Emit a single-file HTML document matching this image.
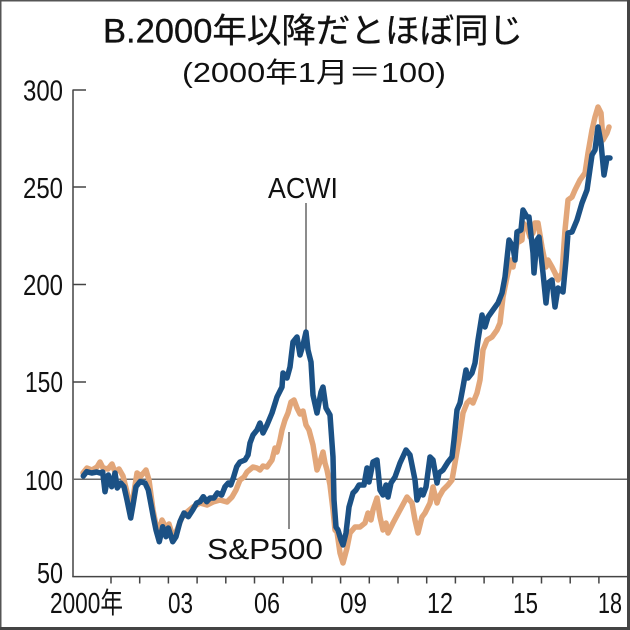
<!DOCTYPE html>
<html>
<head>
<meta charset="utf-8">
<style>
html,body{margin:0;padding:0;background:#fff;}
body{width:630px;height:630px;overflow:hidden;}
svg{display:block;}
text{font-family:"Liberation Sans","Noto Sans CJK JP",sans-serif;fill:#111;}
</style>
</head>
<body>
<svg width="630" height="630" viewBox="0 0 630 630" xmlns="http://www.w3.org/2000/svg">
<rect x="0" y="0" width="630" height="630" fill="#fff"/>
<!-- frame -->
<line x1="0.75" y1="0" x2="0.75" y2="630" stroke="#555" stroke-width="1.5"/>
<line x1="0" y1="0.75" x2="630" y2="0.75" stroke="#555" stroke-width="1.5"/>
<rect x="627" y="0" width="3" height="630" fill="#444"/>
<rect x="0" y="627" width="630" height="3" fill="#444"/>

<!-- titles -->
<text x="103" y="42.5" font-size="34" textLength="420" lengthAdjust="spacingAndGlyphs" stroke="#111" stroke-width="0.35">B.2000年以降だとほぼ同じ</text>
<text x="182" y="82" font-size="28" textLength="264" lengthAdjust="spacingAndGlyphs">(2000年1月＝100)</text>

<!-- y axis -->
<line x1="73" y1="89.5" x2="73" y2="577" stroke="#444" stroke-width="1.5"/>
<g stroke="#444" stroke-width="1.5">
<line x1="73" y1="90" x2="86" y2="90"/>
<line x1="73" y1="187" x2="86" y2="187"/>
<line x1="73" y1="284.5" x2="86" y2="284.5"/>
<line x1="73" y1="382" x2="86" y2="382"/>
</g>
<!-- 100 reference line -->
<line x1="73" y1="479.3" x2="627" y2="479.3" stroke="#6a6a6a" stroke-width="1.5"/>
<!-- x axis -->
<line x1="72.3" y1="576.6" x2="627" y2="576.6" stroke="#444" stroke-width="1.5"/>
<g stroke="#444" stroke-width="1.5">
<line x1="111" y1="576.6" x2="111" y2="583.5"/>
<line x1="139.7" y1="576.6" x2="139.7" y2="583.5"/>
<line x1="168.4" y1="576.6" x2="168.4" y2="583.5"/>
<line x1="197.1" y1="576.6" x2="197.1" y2="583.5"/>
<line x1="225.8" y1="576.6" x2="225.8" y2="583.5"/>
<line x1="254.5" y1="576.6" x2="254.5" y2="583.5"/>
<line x1="283.2" y1="576.6" x2="283.2" y2="583.5"/>
<line x1="311.9" y1="576.6" x2="311.9" y2="583.5"/>
<line x1="340.6" y1="576.6" x2="340.6" y2="583.5"/>
<line x1="369.3" y1="576.6" x2="369.3" y2="583.5"/>
<line x1="398" y1="576.6" x2="398" y2="583.5"/>
<line x1="426.7" y1="576.6" x2="426.7" y2="583.5"/>
<line x1="455.4" y1="576.6" x2="455.4" y2="583.5"/>
<line x1="484.1" y1="576.6" x2="484.1" y2="583.5"/>
<line x1="512.8" y1="576.6" x2="512.8" y2="583.5"/>
<line x1="541.5" y1="576.6" x2="541.5" y2="583.5"/>
<line x1="570.2" y1="576.6" x2="570.2" y2="583.5"/>
<line x1="598.9" y1="576.6" x2="598.9" y2="583.5"/>
</g>

<!-- y labels -->
<text x="23" y="100.5" font-size="29" textLength="40" lengthAdjust="spacingAndGlyphs">300</text>
<text x="23" y="198" font-size="29" textLength="40" lengthAdjust="spacingAndGlyphs">250</text>
<text x="23" y="295" font-size="29" textLength="40" lengthAdjust="spacingAndGlyphs">200</text>
<text x="25" y="392" font-size="29" textLength="38" lengthAdjust="spacingAndGlyphs">150</text>
<text x="25" y="490" font-size="28" textLength="38" lengthAdjust="spacingAndGlyphs">100</text>
<text x="37" y="583" font-size="29" textLength="26" lengthAdjust="spacingAndGlyphs">50</text>

<!-- x labels -->
<text x="50" y="613" font-size="29" textLength="73" lengthAdjust="spacingAndGlyphs">2000年</text>
<text x="168" y="613" font-size="29" textLength="25" lengthAdjust="spacingAndGlyphs">03</text>
<text x="254" y="613" font-size="29" textLength="26" lengthAdjust="spacingAndGlyphs">06</text>
<text x="340" y="613" font-size="29" textLength="27" lengthAdjust="spacingAndGlyphs">09</text>
<text x="427" y="613" font-size="29" textLength="26" lengthAdjust="spacingAndGlyphs">12</text>
<text x="513" y="613" font-size="29" textLength="25" lengthAdjust="spacingAndGlyphs">15</text>
<text x="598" y="613" font-size="29" textLength="24" lengthAdjust="spacingAndGlyphs">18</text>

<!-- annotations -->
<line x1="306" y1="203" x2="306" y2="330" stroke="#666" stroke-width="1.5"/>
<text x="268" y="198" font-size="29" textLength="70" lengthAdjust="spacingAndGlyphs">ACWI</text>
<line x1="289" y1="432" x2="289" y2="529" stroke="#666" stroke-width="1.5"/>
<text x="207" y="559" font-size="29" textLength="116" lengthAdjust="spacingAndGlyphs">S&amp;P500</text>

<!-- S&P500 (orange) -->
<polyline fill="none" stroke="#e2a679" stroke-width="5.5" stroke-linejoin="round" stroke-linecap="round" points="
83,473 87,468 92,470 97,467 100,462 103,468 108,469 112,464 115,472 119,469 123,476 127,492 130.7,510 133,498 137,473 141,476 146,470 149,480 153,510 156,525 158,534 162,520 166,528 169,524 173,537 177,530 182,517 187,512 193,507 200,503 207,505 213,502 220,500 227,502 232,497 236,490 240,480 244,477 247,472 253,467 257,468 260,470 263,466 267,467 272,460 275,448 277,452 280,440 282,430 285,420 288,413 291,402 294,400 297,408 300,414 303,411 306,425 309,430 313,445 317,470 320,462 323,452 325,463 327,470 330,485 333,510 335,530 337,532 340,553 343,563 347,548 350,533 355,527 360,527 365,523 368,513 371,520 373,510 377,498 380,517 383,530 386,523 388,533 393,523 400,510 407,497 412,503 415,520 418,533 422,517 425,513 430,503 433,487 437,503 439,497 443,490 448,485 452,480 455,463 459,440 463,413 467,403 470,400 473,403 477,393 480,380 483,350 487,340 492,337 497,330 500,323 503,297 507,277 511,260 513,267 517,243 522,240 523,223 527,227 530,237 533,233 535,223 538,223 542,247 546,267 548,260 552,267 555,273 558,280 562,273 565,230 568,200 572,197 575,190 580,180 585,173 588,153 592,130 595,117 598,107 601,113 603,140 607,133 609,127"/>

<!-- ACWI (blue) -->
<polyline fill="none" stroke="#1b5185" stroke-width="5.5" stroke-linejoin="round" stroke-linecap="round" points="
83.3,476 86.7,471.7 91.7,473 96.7,472 100,473 102.7,472 105,491.7 108.3,475 111.7,486.7 115,473 117.3,488 120.7,483 124,486.7 127,500 130.7,518 133,505 136,486.7 140,481.7 145,483 148.3,490 153.3,516.7 156,530 159.3,541.7 162.7,526.7 166,536.7 168.3,528 172.7,541.7 176,536.7 180,521.7 184,513 188.3,516.7 192.7,510 196.7,503 200,501.7 203.3,496.7 206.7,501.7 210,498 214,498 217.3,493 221.7,495 225,486.7 228.3,483 230.7,485 233.3,478 236.7,466.7 240,462 245,460 248,455 250,443 253,435 257,430 260,423 263,433 267,425 272,413 277,397 282,387 283,373 287,378 290,367 293,342 297,337 300,355 303,345 306,332 308,350 311,362 313,395 317,413 321,392 323,387 326,408 330,415 333,457 334,500 336,527 338,530 341,540 343,545 346,533 349,507 353,493 356,490 359,485 364,485 367,468 369,482 373,462 377,460 380,490 383,495 386,485 388,497 391,483 395,477 400,463 406,450 410,455 415,480 417,500 421,490 423,495 426,487 430,457 433,460 437,483 439,473 443,470 448,462 452,457 454,440 457,410 460,403 463,387 466,370 468,378 472,373 475,363 478,340 482,315 485,327 488,317 493,310 498,303 502,293 505,277 509,240 513,247 515,260 517,232 521,230 523,210 527,217 529,217 533,253 534,273 537,240 539,237 543,273 546,303 548,283 552,280 555,307 558,288 563,292 566,260 568,233 572,232 577,220 582,203 587,190 592,155 595,150 598,127 601,143 604,175 607,158 610,158"/>
</svg>
</body>
</html>
